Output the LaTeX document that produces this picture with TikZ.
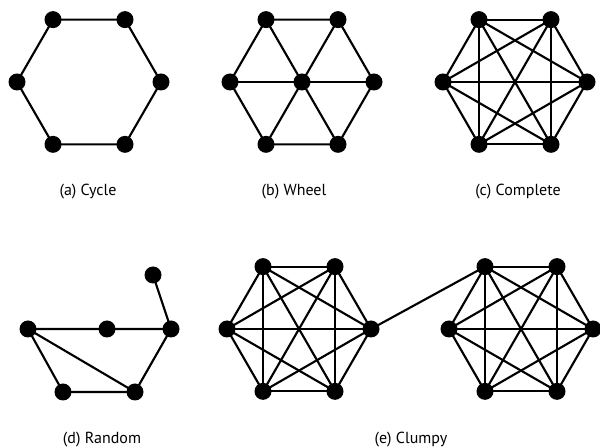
\documentclass[tikz,border=0pt]{standalone}
\usepackage{fontspec}
\setmainfont{PT Sans}
\begin{document}
\begin{tikzpicture}[x=0.75pt,y=-0.75pt,
  vtx/.style={circle,fill=black,inner sep=0pt,minimum size=12.75pt},
  edge/.style={line width=1.6pt,line cap=round},
  lbl/.style={font=\fontsize{12}{14}\selectfont,inner sep=0pt}]
\useasboundingbox (0,0) rectangle (600,448);
% hexagon vertex coordinates
\foreach \n/\cx/\cy in {a/89/82,b/302/82,c/515/82,l/299/329,r/521/329}{
  \foreach \i in {1,...,6}{
    \coordinate (\n\i) at ({\cx+72*cos(120-60*\i)},{\cy-72*sin(120-60*\i)});
  }
}
\coordinate (b0) at (302,82);
% random graph coordinates
\coordinate (d1) at (28,329);
\coordinate (d2) at (107,329);
\coordinate (d3) at (171,329);
\coordinate (d4) at (153,275);
\coordinate (d5) at (63,392);
\coordinate (d6) at (135,392);
% (a) cycle
\draw[edge] (a1) -- (a2) -- (a3) -- (a4) -- (a5) -- (a6) -- (a1);
% (b) wheel
\draw[edge] (b1) -- (b2) -- (b3) -- (b4) -- (b5) -- (b6) -- (b1);
\foreach \i in {1,...,6}{\draw[edge] (b0) -- (b\i);}
% (c) complete and (e) clumpy
\foreach \n in {c,l,r}{
  \foreach \i in {1,...,5}{
    \pgfmathtruncatemacro\nxt{\i+1}
    \foreach \j in {\nxt,...,6}{\draw[edge] (\n\i) -- (\n\j);}
  }
}
\draw[edge] (l2) -- (r6);
% (d) random
\draw[edge] (d1) -- (d2) -- (d3) -- (d4);
\draw[edge] (d3) -- (d6) -- (d5) -- (d1) -- (d6);
% vertices
\foreach \n in {a,b,c,l,r}{
  \foreach \i in {1,...,6}{\node[vtx] (v\n\i) at (\n\i) {};}
}
\node[vtx] (vb0) at (b0) {};
\foreach \i in {1,...,6}{\node[vtx] (vd\i) at (d\i) {};}
% labels
\node[lbl] (la) at (88,192) {(a) Cycle};
\node[lbl] (lb) at (294,192) {(b) Wheel};
\node[lbl] (lc) at (518,192) {(c) Complete};
\node[lbl] (ld) at (102,440) {(d) Random};
\node[lbl] (le) at (411,440) {(e) Clumpy};
\end{tikzpicture}
\end{document}
